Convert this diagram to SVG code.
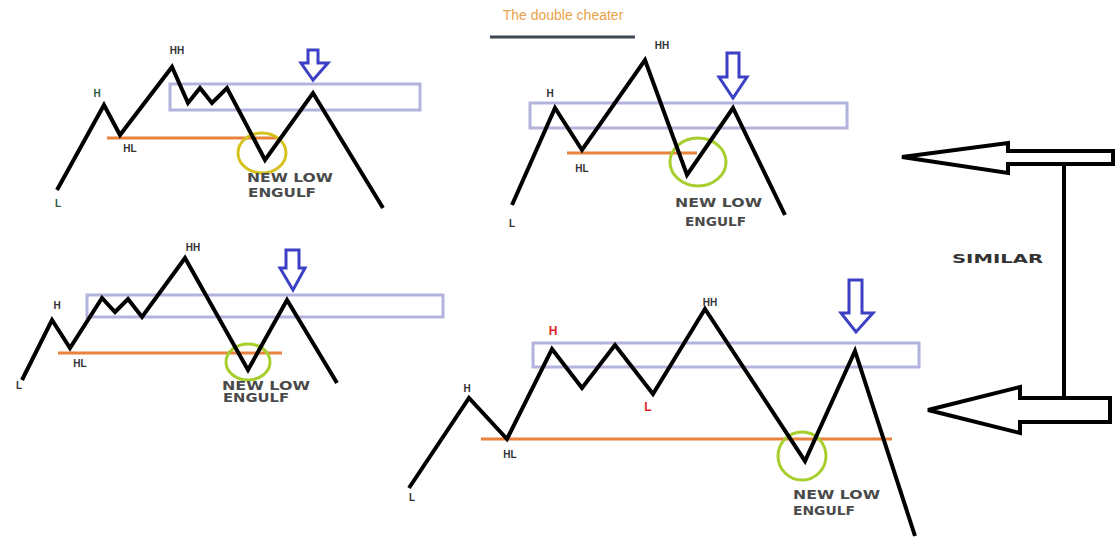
<svg xmlns="http://www.w3.org/2000/svg" width="1116" height="544" viewBox="0 0 1116 544">
<style>
.price{fill:none;stroke:#000;stroke-width:4;stroke-linejoin:miter;stroke-linecap:butt}
.zone{fill:none;stroke:#b3b3de;stroke-width:3}
.lvl{stroke:#e8823c;stroke-width:3}
.down{fill:#fff;stroke:#3c40c4;stroke-width:3;stroke-linejoin:miter}
.lbl{font-family:"Liberation Sans",Arial,sans-serif;font-weight:bold;font-size:10px;fill:#333;text-anchor:middle}
.note{font-family:"DejaVu Sans","Liberation Sans",sans-serif;font-weight:bold;font-size:12px;fill:#4a4a4a}
.red{fill:#e02424;font-size:12px}
.big{fill:#fff;stroke:#000;stroke-width:4;stroke-linejoin:miter}
</style>
<rect width="1116" height="544" fill="#fff"/>
<text x="563" y="20" font-family="Liberation Sans,Arial,sans-serif" font-size="14" fill="#e8a24a" text-anchor="middle">The double cheater</text>
<line x1="490" y1="37" x2="635" y2="37" stroke="#3d4752" stroke-width="3"/>

<g id="panel1">
<rect class="zone" x="170" y="84" width="250" height="26"/>
<line class="lvl" x1="107" y1="138" x2="277" y2="138"/>
<ellipse cx="262" cy="153" rx="24" ry="20" fill="none" stroke="#d6c21e" stroke-width="3"/>
<polyline class="price" points="57,190 104,105 120,135 172,67 188,103 200,88 212,103 227,88 265,160 313,93 383,208"/>
<path class="down" d="M308,50 L318,50 L318,63 L328,63 L313,80 L301,63 L308,63 Z"/>
<text class="lbl" x="97" y="97" style="fill:#2c5a40">H</text>
<text class="lbl" x="177" y="54">HH</text>
<text class="lbl" x="130" y="152">HL</text>
<text class="lbl" x="58" y="207" style="fill:#2c5a40">L</text>
<text class="note" x="247" y="182" textLength="86" lengthAdjust="spacingAndGlyphs">NEW LOW</text>
<text class="note" x="248" y="197" textLength="68" lengthAdjust="spacingAndGlyphs">ENGULF</text>
</g>

<g id="panel2">
<rect class="zone" x="530" y="103" width="317" height="25"/>
<line class="lvl" x1="567" y1="153" x2="697" y2="153"/>
<ellipse cx="698" cy="162" rx="28" ry="24" fill="none" stroke="#a6cf2e" stroke-width="3"/>
<polyline class="price" points="512,205 555,108 582,150 645,60 687,175 733,108 785,215"/>
<path class="down" d="M727,53 L739,53 L739,77 L747,77 L733,98 L719,77 L727,77 Z"/>
<text class="lbl" x="550" y="97">H</text>
<text class="lbl" x="662" y="49">HH</text>
<text class="lbl" x="582" y="172">HL</text>
<text class="lbl" x="512" y="227">L</text>
<text class="note" x="675" y="207" textLength="87" lengthAdjust="spacingAndGlyphs">NEW LOW</text>
<text class="note" x="685" y="226" textLength="61" lengthAdjust="spacingAndGlyphs">ENGULF</text>
</g>

<g id="panel3">
<rect class="zone" x="87" y="295" width="356" height="22"/>
<line class="lvl" x1="58" y1="353" x2="282" y2="353"/>
<ellipse cx="248" cy="362" rx="22" ry="18" fill="none" stroke="#a6cf2e" stroke-width="3"/>
<polyline class="price" points="22,380 52,320 70,348 102,298 115,312 128,299 142,317 185,258 248,370 287,300 337,383"/>
<path class="down" d="M286,250 L299,250 L299,268 L305,268 L293,290 L280,268 L286,268 Z"/>
<text class="lbl" x="57" y="309">H</text>
<text class="lbl" x="193" y="251">HH</text>
<text class="lbl" x="80" y="367">HL</text>
<text class="lbl" x="19" y="389">L</text>
<text class="note" x="222" y="390" textLength="88" lengthAdjust="spacingAndGlyphs">NEW LOW</text>
<text class="note" x="223" y="402" textLength="66" lengthAdjust="spacingAndGlyphs">ENGULF</text>
</g>

<g id="panel4">
<rect class="zone" x="533" y="343" width="386" height="24"/>
<line class="lvl" x1="481" y1="439" x2="892" y2="439"/>
<ellipse cx="802" cy="456" rx="24" ry="24" fill="none" stroke="#a6cf2e" stroke-width="3"/>
<polyline class="price" points="409,488 469,398 507,439 552,349 582,388 615,345 653,394 705,309 805,461 855,351 915,536"/>
<path class="down" d="M849,280 L862,280 L862,313 L873,313 L856,332 L841,313 L849,313 Z"/>
<text class="lbl" x="467" y="392">H</text>
<text class="lbl" x="710" y="306">HH</text>
<text class="lbl" x="510" y="458">HL</text>
<text class="lbl" x="412" y="501">L</text>
<text class="lbl red" x="553" y="335">H</text>
<text class="lbl red" x="648" y="411">L</text>
<text class="note" x="793" y="499" textLength="87" lengthAdjust="spacingAndGlyphs">NEW LOW</text>
<text class="note" x="793" y="515" textLength="62" lengthAdjust="spacingAndGlyphs">ENGULF</text>
</g>

<g id="connectors">
<path class="big" d="M902,157 L1008,143 L1008,151 L1113,151 L1113,164 L1008,164 L1008,173 Z"/>
<path class="big" d="M928,410 L1020,387 L1020,398 L1110,398 L1110,422 L1020,422 L1020,433 Z"/>
<line x1="1064" y1="164" x2="1064" y2="398" stroke="#000" stroke-width="4"/>
</g>
<g id="similar">
<text x="952" y="263" font-family="DejaVu Sans,Liberation Sans,sans-serif" font-weight="bold" font-size="13" fill="#333" textLength="91" lengthAdjust="spacingAndGlyphs">SIMILAR</text>
</g>
</svg>
